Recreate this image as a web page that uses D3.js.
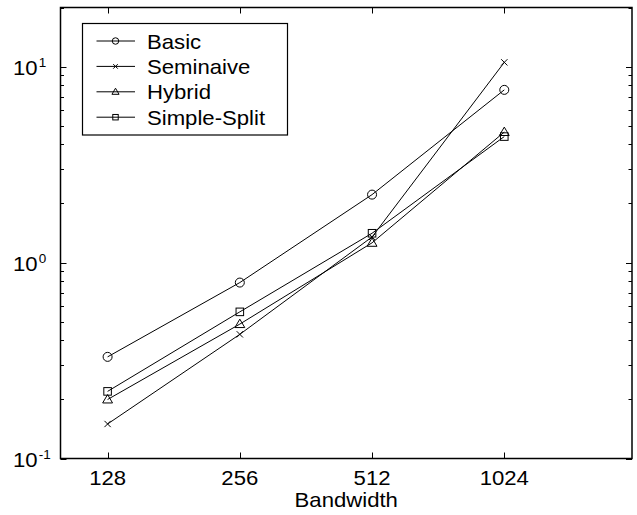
<!DOCTYPE html>
<html>
<head>
<meta charset="utf-8">
<script src="https://d3js.org/d3.v7.min.js"></script>
<style>
  body { margin: 0; background: #fff; }
  text { font-family: "Liberation Sans", Arial, sans-serif; fill: #000; }
</style>
</head>
<body>
<div id="chart"></div>
<script>

// values
var bandwidth = [128, 256, 512, 1024];
var basic = [0.33, 0.79, 2.22, 7.6];
var seminaive = [0.15, 0.43, 1.35, 10.5];
var hybrid = [0.20, 0.485, 1.26, 4.63];
var simpleSplit = [0.22, 0.56, 1.41, 4.39];
var seriesNames = ["Basic", "Seminaive", "Hybrid", "Simple-Split"];
var seriesMarkers = ["circle", "cross", "triangle", "square"];
var yTickExps = [-1, 0, 1];

var series = [basic, seminaive, hybrid, simpleSplit].map(function(vals, i){
    return {
        name: seriesNames[i],
        marker: seriesMarkers[i],
        values: vals.map(function(v, j){ return { x: bandwidth[j], y: v }; })
    };
});

var W = 637, H = 515;
var margin = { left: 60.5, right: 5, top: 7.5, bottom: 56.5 };
var stretch = 1.08;   // the exported helvetica is a bit wider than arial

var svg = d3.select("#chart")
    .append("svg")
    .attr("width", W)
    .attr("height", H);

var xScale = d3.scaleLog().base(2)
    .domain([100, 2000])
    .range([margin.left, W - margin.right]);

var yScale = d3.scaleLog()
    .domain([0.1, 20])
    .range([H - margin.bottom, margin.top]);

var x0 = xScale.range()[0], x1 = xScale.range()[1];
var y0 = yScale.range()[0], y1 = yScale.range()[1];

function place(x, y) {
    return "translate(" + x + "," + y + ") scale(" + stretch + ",1)";
}

// ticks (inward, on all four sides like matlab box on)
var ticks = svg.append("g").attr("stroke", "#000").attr("stroke-width", 1);

bandwidth.forEach(function(b){
    var x = Math.round(xScale(b)) + 0.5;
    ticks.append("line").attr("x1", x).attr("x2", x).attr("y1", y0).attr("y2", y0 - 6);
    ticks.append("line").attr("x1", x).attr("x2", x).attr("y1", y1).attr("y2", y1 + 6);
});

var minorVals = [];
[0.1, 1, 10].forEach(function(dec){
    for (var k = 1; k <= 9; k++) {
        var v = dec * k;
        if (v <= 20) minorVals.push({ v: v, major: k === 1 });
    }
});
minorVals.forEach(function(m){
    var y = Math.round(yScale(m.v)) + 0.5;
    var len = m.major ? 6 : 3.5;
    ticks.append("line").attr("x1", x0).attr("x2", x0 + len).attr("y1", y).attr("y2", y);
    ticks.append("line").attr("x1", x1).attr("x2", x1 - len).attr("y1", y).attr("y2", y);
});

// frame
svg.append("rect")
    .attr("x", x0).attr("y", y1)
    .attr("width", x1 - x0).attr("height", y0 - y1)
    .attr("fill", "none")
    .attr("stroke", "#000")
    .attr("stroke-width", 1.5);

// x tick labels
svg.selectAll(".xlab")
    .data(bandwidth).enter()
    .append("text")
    .attr("class", "xlab")
    .attr("transform", function(d){ return place(xScale(d), 484.5); })
    .attr("text-anchor", "middle")
    .style("font-size", "20.5px")
    .text(function(d){ return d; });

svg.append("text")
    .attr("transform", place((x0 + x1) / 2, 507))
    .attr("text-anchor", "middle")
    .style("font-size", "20.5px")
    .text("Bandwidth");

// y tick labels 10^k
var ylab = svg.selectAll(".ylab")
    .data(yTickExps).enter()
    .append("text")
    .attr("class", "ylab")
    .attr("transform", function(d){ return place(13, yScale(Math.pow(10, d)) + 8.5); })
    .style("font-size", "20.5px");
ylab.append("tspan").text("10");
ylab.append("tspan")
    .attr("dy", -8)
    .attr("dx", 1)
    .style("font-size", "12.5px")
    .text(function(d){ return d; });

// lines
var line = d3.line()
    .x(function(d){ return xScale(d.x); })
    .y(function(d){ return yScale(d.y); });

svg.selectAll(".line")
    .data(series).enter()
    .append("path")
    .attr("class", "line")
    .attr("d", function(d){ return line(d.values); })
    .attr("fill", "none")
    .attr("stroke", "#000")
    .attr("stroke-width", 1);

function drawMarker(g, type, x, y, s) {
    if (type === "circle") {
        g.append("circle").attr("cx", x).attr("cy", y).attr("r", s * 0.5);
    } else if (type === "square") {
        g.append("rect").attr("x", x - s * 0.42).attr("y", y - s * 0.42)
            .attr("width", s * 0.84).attr("height", s * 0.84);
    } else if (type === "triangle") {
        var h = s * 0.55;
        g.append("path").attr("d", "M" + x + "," + (y - h) + "L" + (x + h) + "," + (y + h * 0.7) +
            "L" + (x - h) + "," + (y + h * 0.7) + "Z");
    } else if (type === "cross") {
        var c = s * 0.35;
        g.append("path").attr("d", "M" + (x - c) + "," + (y - c) + "L" + (x + c) + "," + (y + c) +
            "M" + (x - c) + "," + (y + c) + "L" + (x + c) + "," + (y - c));
    }
}

var markers = svg.append("g")
    .attr("fill", "none")
    .attr("stroke", "#000")
    .attr("stroke-width", 1);

series.forEach(function(s){
    s.values.forEach(function(d){
        drawMarker(markers, s.marker, xScale(d.x), yScale(d.y), 9);
    });
});

// legend
var legend = svg.append("g");
legend.append("rect")
    .attr("x", 82.5).attr("y", 23.5)
    .attr("width", 205).attr("height", 111.5)
    .attr("fill", "#fff")
    .attr("stroke", "#000")
    .attr("stroke-width", 1.2);

var legMarks = legend.append("g")
    .attr("fill", "none")
    .attr("stroke", "#000")
    .attr("stroke-width", 1);

series.forEach(function(s, i){
    var y = 41 + i * 25.4;
    legMarks.append("line")
        .attr("x1", 96.5).attr("x2", 135)
        .attr("y1", y).attr("y2", y);
    drawMarker(legMarks, s.marker, 115.5, y, 6.5);
    legend.append("text")
        .attr("transform", place(147, y + 7.5))
        .style("font-size", "20.5px")
        .text(s.name);
});

</script>
</body>
</html>
